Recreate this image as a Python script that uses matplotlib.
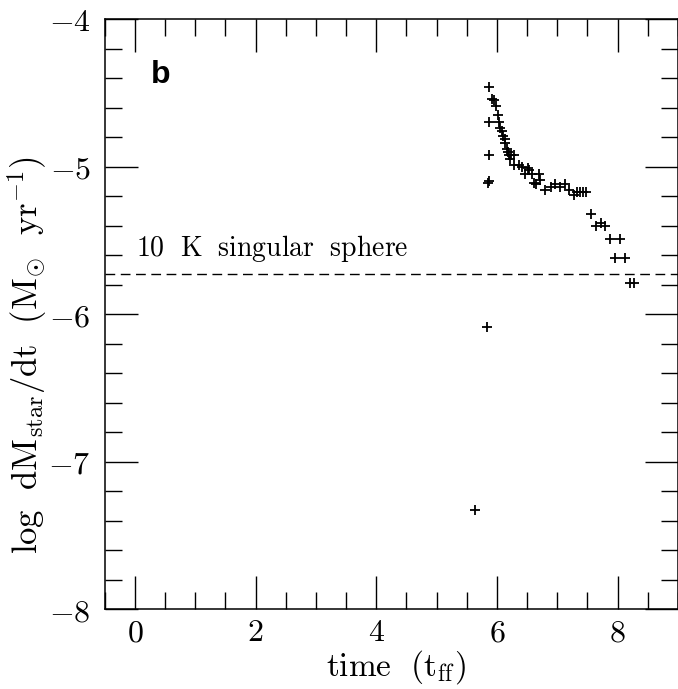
import matplotlib
matplotlib.use("Agg")
import matplotlib.pyplot as plt
from matplotlib.ticker import MultipleLocator, FuncFormatter

plt.rcParams['mathtext.fontset'] = 'cm'
plt.rcParams['font.family'] = 'serif'
plt.rcParams['font.serif'] = ['DejaVu Serif']

# accretion rate data
time_tff = [5.87, 5.92, 5.95, 5.99, 5.87, 6.02, 6.04, 6.06, 6.09, 6.10,
            6.13, 6.14, 6.16, 6.18, 6.20, 6.23, 6.28, 5.87, 6.21, 6.28,
            6.36, 6.41, 6.52, 6.54, 6.47, 6.58, 6.70, 5.87, 5.85, 6.61,
            6.65, 6.72, 6.80, 6.89, 6.97, 7.04, 7.13, 7.19, 7.28, 7.32,
            7.37, 7.43, 7.48, 7.56, 7.64, 7.72, 7.80, 7.88, 8.04, 7.95,
            8.12, 8.21, 8.28, 5.84, 5.63]
log_mdot = [-4.46, -4.54, -4.55, -4.59, -4.70, -4.65, -4.70, -4.74, -4.76, -4.79,
            -4.81, -4.84, -4.88, -4.90, -4.92, -4.92, -4.92, -4.92, -4.95, -4.99,
            -4.99, -5.00, -5.01, -5.02, -5.05, -5.05, -5.05, -5.10, -5.11, -5.11,
            -5.12, -5.09, -5.16, -5.14, -5.12, -5.14, -5.12, -5.16, -5.19, -5.17,
            -5.17, -5.17, -5.17, -5.32, -5.40, -5.38, -5.40, -5.49, -5.49, -5.62,
            -5.62, -5.79, -5.79, -6.09, -7.33]
singular_sphere = -5.73

fig = plt.figure(figsize=(6.78, 6.89), dpi=100)
ax = fig.add_axes([0.1544, 0.1161, 0.8454, 0.8559])

ax.plot(time_tff, log_mdot, linestyle='none', marker='+', color='black',
        markersize=7, markeredgewidth=1.3)
ax.axhline(singular_sphere, color='black', lw=1.0, linestyle=(0, (7, 4)))
ax.text(0.02, singular_sphere + 0.07, r'$\mathrm{10\ \ K\ \ singular\ \ sphere}$',
        fontsize=20, ha='left', va='bottom')
ax.text(0.27, -4.43, 'b', fontsize=23, fontweight='bold', family='Liberation Sans',
        ha='left', va='baseline')

ax.set_xlim(-0.5, 9.0)
ax.set_ylim(-8, -4)
ax.xaxis.set_major_locator(MultipleLocator(2))
ax.xaxis.set_minor_locator(MultipleLocator(0.5))
ax.yaxis.set_major_locator(MultipleLocator(1))
ax.yaxis.set_minor_locator(MultipleLocator(0.2))
fmt = FuncFormatter(lambda v, p: r'$%d$' % round(v))
ax.xaxis.set_major_formatter(fmt)
ax.yaxis.set_major_formatter(fmt)
ax.tick_params(which='both', direction='in', top=True, right=True, width=1.0,
               labelsize=23, pad=10)
ax.tick_params(axis='x', which='both', pad=6)
ax.tick_params(which='major', length=24)
ax.tick_params(which='minor', length=12)
for s in ax.spines.values():
    s.set_linewidth(1.1)

ax.set_xlabel(r'$\mathrm{time\ \ (t_{ff})}$', fontsize=24)
ax.xaxis.set_label_coords(0.508, -0.066)
ax.set_ylabel(r'$\mathrm{log\ \ dM_{star}/dt\ \ (M_{\odot}\ \ yr^{-1})}$',
              fontsize=25)
ax.yaxis.set_label_coords(-0.097, 0.43)

fig.savefig('out.png', dpi=100)
